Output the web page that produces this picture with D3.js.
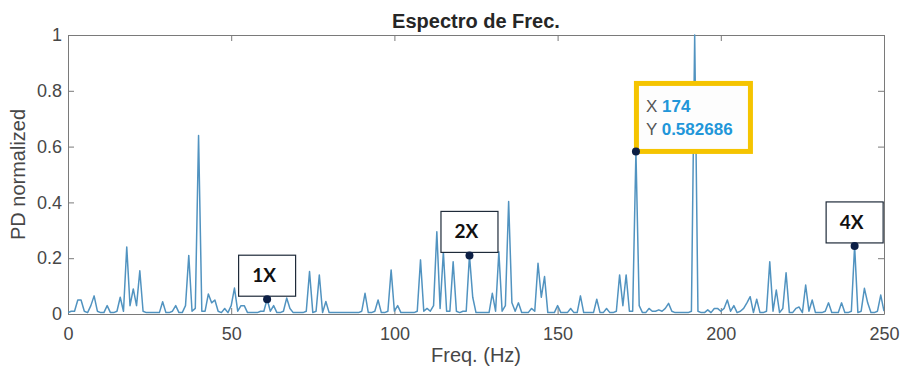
<!DOCTYPE html>
<html>
<head>
<meta charset="utf-8">
<script src="https://cdn.jsdelivr.net/npm/d3@7"></script>
<style>
  body { margin: 0; background: #fff; }
  svg text { font-family: "Liberation Sans", Arial, sans-serif; }
</style>
</head>
<body>
<svg id="chart" width="900" height="375"></svg>
<script>
// spectrum, 1 Hz steps from 0 to 250 Hz
var pd = [
  0.005, 0.01, 0.01, 0.05, 0.05, 0.01, 0.005, 0.03, 0.065, 0.01,     // 0-9
  0.005, 0.005, 0.03, 0.005, 0.005, 0.01, 0.06, 0.01, 0.24, 0.03,    // 10-19
  0.09, 0.03, 0.155, 0.01, 0.005, 0.005, 0.005, 0.005, 0.005, 0.044, // 20-29
  0.005, 0.005, 0.01, 0.03, 0.005, 0.005, 0.03, 0.21, 0.01, 0.02,   // 30-39
  0.64, 0.01, 0.01, 0.072, 0.04, 0.05, 0.01, 0.005, 0.02, 0.005,     // 40-49
  0.03, 0.093, 0.01, 0.03, 0.03, 0.005, 0.005, 0.005, 0.005, 0.01,   // 50-59
  0.01, 0.053, 0.01, 0.03, 0.005, 0.005, 0.01, 0.057, 0.02, 0.005,   // 60-69
  0.005, 0.005, 0.005, 0.01, 0.152, 0.005, 0.01, 0.14, 0.005, 0.045, // 70-79
  0.005, 0.005, 0.005, 0.005, 0.005, 0.005, 0.005, 0.005, 0.005, 0.005, // 80-89
  0.01, 0.074, 0.005, 0.005, 0.01, 0.05, 0.005, 0.005, 0.01, 0.158,  // 90-99
  0.01, 0.03, 0.005, 0.005, 0.005, 0.005, 0.005, 0.01, 0.194, 0.01,  // 100-109
  0.02, 0.01, 0.03, 0.295, 0.02, 0.223, 0.01, 0.01, 0.187, 0.01,     // 110-119
  0.005, 0.01, 0.01, 0.21, 0.06, 0.005, 0.005, 0.005, 0.005, 0.005,  // 120-129
  0.074, 0.01, 0.223, 0.01, 0.03, 0.403, 0.04, 0.01, 0.04, 0.005,    // 130-139
  0.005, 0.005, 0.02, 0.01, 0.182, 0.06, 0.134, 0.005, 0.005, 0.005, // 140-149
  0.03, 0.005, 0.005, 0.005, 0.02, 0.005, 0.005, 0.065, 0.005, 0.005, // 150-159
  0.005, 0.005, 0.053, 0.005, 0.005, 0.02, 0.005, 0.005, 0.01, 0.14, // 160-169
  0.03, 0.14, 0.01, 0.01, 0.582686, 0.03, 0.005, 0.005, 0.02, 0.01,  // 170-179
  0.01, 0.015, 0.01, 0.02, 0.038, 0.01, 0.005, 0.005, 0.005, 0.005,  // 180-189
  0.005, 0.01, 1.0, 0.01, 0.005, 0.005, 0.015, 0.005, 0.02, 0.02,    // 190-199
  0.01, 0.02, 0.05, 0.01, 0.03, 0.005, 0.01, 0.02, 0.04, 0.062,      // 200-209
  0.005, 0.053, 0.005, 0.005, 0.01, 0.187, 0.01, 0.086, 0.005, 0.02, // 210-219
  0.148, 0.005, 0.005, 0.02, 0.025, 0.005, 0.104, 0.01, 0.05, 0.005, // 220-229
  0.005, 0.005, 0.01, 0.04, 0.005, 0.005, 0.005, 0.04, 0.005, 0.005, // 230-239
  0.01, 0.244, 0.005, 0.01, 0.092, 0.04, 0.005, 0.005, 0.01, 0.068,  // 240-249
  0.01                                                               // 250
];
var freq = pd.map(function(v, i) { return i; });

var xTicks = [0, 50, 100, 150, 200, 250];
var yTicks = [0, 0.2, 0.4, 0.6, 0.8, 1];

var harmLabels = ['1X', '2X', '4X'];
var harmFreqs = [61, 123, 241];
var tipFreq = 174;

var pLeft = 68, pRight = 884, pTop = 35, pBottom = 314;

var svg = d3.select('#chart');

var x = d3.scaleLinear().domain([0, 250]).range([pLeft, pRight]);
var y = d3.scaleLinear().domain([0, 1]).range([pBottom, pTop]);

var axisColor = '#7a7a7a';
var labelColor = '#474747';

function styleAxis(g) {
    g.select('.domain').attr('stroke', axisColor);
    g.selectAll('.tick line').attr('stroke', axisColor);
    g.selectAll('.tick text')
        .attr('fill', labelColor)
        .style('font-size', '18px')
        .style('font-family', '"Liberation Sans", Arial, sans-serif');
}

svg.append('g')
    .attr('transform', 'translate(0,' + pBottom + ')')
    .call(d3.axisBottom(x).tickValues(xTicks).tickSizeInner(-6).tickSizeOuter(0).tickPadding(13))
    .call(styleAxis);

svg.append('g')
    .attr('transform', 'translate(0,' + pTop + ')')
    .call(d3.axisTop(x).tickValues(xTicks).tickSizeInner(-6).tickSizeOuter(0).tickFormat(''))
    .call(styleAxis);

svg.append('g')
    .attr('transform', 'translate(' + pLeft + ',0)')
    .call(d3.axisLeft(y).tickValues(yTicks).tickSizeInner(-6).tickSizeOuter(0).tickPadding(6)
        .tickFormat(function(d) { return d3.format('~g')(d); }))
    .call(styleAxis);

svg.append('g')
    .attr('transform', 'translate(' + pRight + ',0)')
    .call(d3.axisRight(y).tickValues(yTicks).tickSizeInner(-6).tickSizeOuter(0).tickFormat(''))
    .call(styleAxis);

// spectrum line
svg.append('clipPath').attr('id', 'plotclip')
    .append('rect')
    .attr('x', pLeft).attr('y', pTop - 1)
    .attr('width', pRight - pLeft).attr('height', pBottom - pTop + 1);

var line = d3.line()
    .x(function(d, i) { return x(freq[i]); })
    .y(function(d) { return y(d); });

svg.append('path')
    .datum(pd)
    .attr('clip-path', 'url(#plotclip)')
    .attr('fill', 'none')
    .attr('stroke', '#5193c0')
    .attr('stroke-width', 1.5)
    .attr('stroke-linejoin', 'round')
    .attr('d', line);

// titles
svg.append('text')
    .attr('x', (pLeft + pRight) / 2).attr('y', 28)
    .attr('text-anchor', 'middle')
    .style('font-size', '20px').style('font-weight', 'bold')
    .attr('fill', '#262626')
    .text('Espectro de Frec.');

svg.append('text')
    .attr('x', (pLeft + pRight) / 2).attr('y', 362)
    .attr('text-anchor', 'middle')
    .style('font-size', '20px')
    .attr('fill', labelColor)
    .text('Freq. (Hz)');

svg.append('text')
    .attr('transform', 'translate(25,' + (pTop + pBottom) / 2 + ') rotate(-90)')
    .attr('text-anchor', 'middle')
    .style('font-size', '20px')
    .attr('fill', labelColor)
    .text('PD normalized');

// harmonic labels
var harm = svg.selectAll('.harm')
    .data(harmFreqs)
    .enter().append('g')
    .attr('class', 'harm');

harm.append('rect')
    .attr('x', function(d) { return x(d) - 28.5; })
    .attr('y', function(d) { return y(pd[d]) - 44; })
    .attr('width', 57)
    .attr('height', 41)
    .attr('fill', '#fff')
    .attr('stroke', '#1f2b3a')
    .attr('stroke-width', 1.2);

harm.append('text')
    .attr('x', function(d) { return x(d) - 3; })
    .attr('y', function(d) { return y(pd[d]) - 17; })
    .attr('text-anchor', 'middle')
    .style('font-family', 'Lato, "Open Sans", sans-serif')
    .style('font-size', '19px').style('font-weight', 'bold')
    .attr('fill', '#111')
    .text(function(d, i) { return harmLabels[i]; });

harm.append('circle')
    .attr('cx', function(d) { return x(d); })
    .attr('cy', function(d) { return y(pd[d]); })
    .attr('r', 4)
    .attr('fill', '#0c1f45');

// data tip
var tx = x(tipFreq), ty = y(pd[tipFreq]);
svg.append('rect')
    .attr('x', tx + 0.5).attr('y', ty - 68)
    .attr('width', 114).attr('height', 68)
    .attr('fill', '#fdfdfd')
    .attr('stroke', '#f5c400')
    .attr('stroke-width', 5);

var tip = svg.append('text')
    .style('font-size', '17px');
var t1 = tip.append('tspan').attr('x', tx + 10).attr('y', ty - 39);
t1.append('tspan').attr('fill', '#555').text('X ');
t1.append('tspan').attr('fill', '#2196d9').style('font-weight', 'bold').text(tipFreq);
var t2 = tip.append('tspan').attr('x', tx + 10).attr('y', ty - 16);
t2.append('tspan').attr('fill', '#555').text('Y ');
t2.append('tspan').attr('fill', '#2196d9').style('font-weight', 'bold').text(pd[tipFreq]);

svg.append('circle')
    .attr('cx', tx).attr('cy', ty)
    .attr('r', 4)
    .attr('fill', '#0c1f45');
</script>
</body>
</html>
